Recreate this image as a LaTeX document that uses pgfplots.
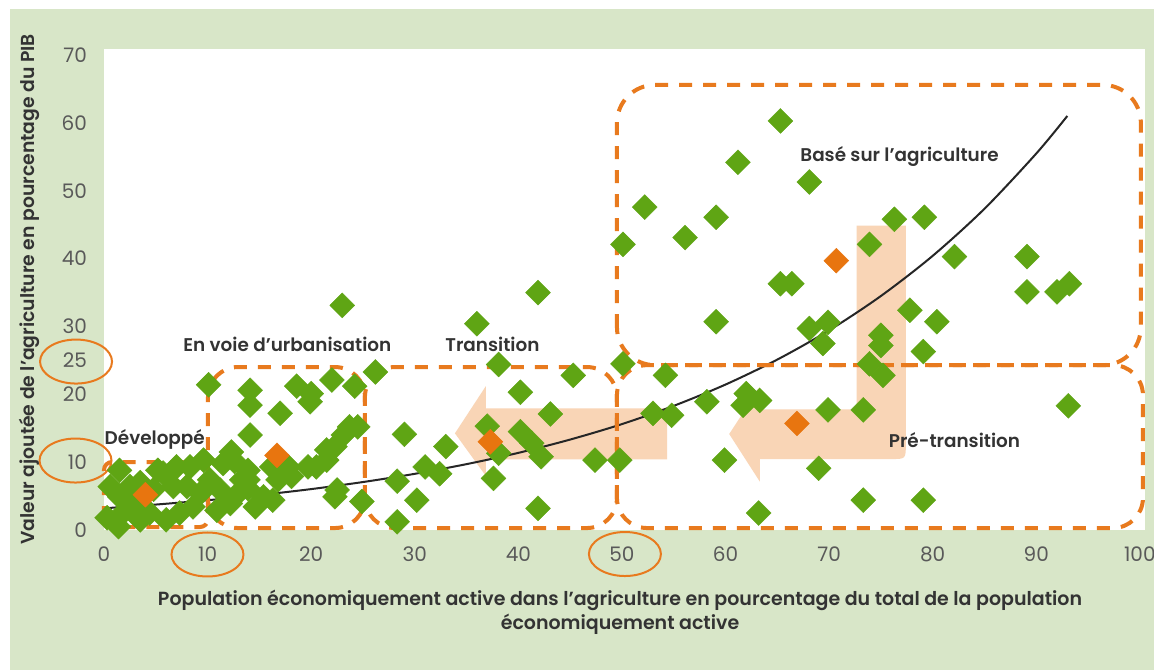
\documentclass[border=0pt]{standalone}
\usepackage{fontspec}
\setmainfont{Poppins}[BoldFont={Poppins SemiBold}]
\usepackage{pgfplots}
\pgfplotsset{compat=1.18}
\definecolor{bggreen}{HTML}{D8E6C8}
\definecolor{dgreen}{HTML}{5FA514}
\definecolor{dorange}{HTML}{E8750F}
\definecolor{boxorange}{HTML}{E87A1E}
\definecolor{peach}{HTML}{F9D5B6}
\definecolor{txtgray}{HTML}{595959}
\definecolor{lblgray}{HTML}{333333}

\pgfplotstableread{
x y
65.3 60.3
61.2 54.2
68.1 51.3
52.2 47.6
59.1 46.1
56.1 43.1
50.1 42.1
76.3 45.8
79.2 46.1
73.9 42.1
82.1 40.3
89.1 40.3
65.3 36.3
66.4 36.3
89.1 35.1
92.0 35.1
93.2 36.3
59.1 30.7
77.8 32.4
80.4 30.7
68.1 29.7
69.9 30.6
69.4 27.5
75.0 28.7
75.0 27.2
79.1 26.3
73.9 24.5
75.2 22.8
69.9 17.7
73.3 17.7
93.1 18.3
69.0 9.1
73.3 4.4
79.1 4.4
63.2 2.5
50.1 24.5
54.2 22.8
45.3 22.8
53.0 17.2
54.8 16.9
58.2 18.9
62.0 20.1
63.3 19.1
61.7 18.4
47.4 10.3
49.8 10.3
59.9 10.3
41.9 35.0
36.0 30.4
38.1 24.4
26.2 23.3
40.2 20.3
43.1 17.1
29.0 14.1
37.0 15.3
40.2 14.5
41.3 12.8
42.2 10.8
38.1 11.3
33.0 12.3
31.0 9.3
32.4 8.3
28.3 7.2
37.6 7.6
30.2 4.4
41.9 3.2
28.3 1.2
23.0 33.1
22.0 22.1
24.2 21.2
18.6 21.2
20.0 20.1
19.9 18.9
14.1 20.6
14.1 18.4
17.0 17.2
14.1 14.0
23.7 15.2
24.5 15.2
23.1 14.0
22.3 12.3
21.5 11.8
21.5 10.3
20.5 9.3
19.7 9.3
17.8 9.3
16.2 9.3
16.8 7.4
13.9 8.8
13.9 7.4
13.9 6.1
12.6 10.1
15.4 4.9
16.3 4.4
14.6 3.4
22.3 4.9
24.9 4.2
12.6 4.9
10.1 21.4
18.1 7.9
22.5 5.9
0.3 1.8
1.4 0.5
1.5 8.8
0.6 6.4
2.5 6.4
1.5 4.9
2.8 3.4
4.4 2.5
6.0 1.5
5.7 8.4
7.0 9.3
8.3 9.3
6.7 6.4
8.0 6.4
9.3 5.4
9.6 10.3
11.5 9.8
12.3 11.5
10.2 7.4
11.2 5.9
12.2 3.9
10.9 2.9
8.6 3.4
7.3 2.5
3.5 1.5
1.5 2.0
13.3 7.4
5.2 8.8
3.5 7.0
4.8 6.0
}\greenpts

\pgfplotstableread{
x y
4.0 5.2
16.7 11.0
37.3 13.0
66.9 15.7
70.7 39.7
}\orangepts

\pgfplotstableread{
x y
0.3 3.23
5 3.75
10 4.39
15 5.15
20 6.03
25 7.07
30 8.28
35 9.71
40 11.37
45 13.33
50 15.61
55 18.30
60 21.44
65 25.12
70 29.43
75 34.49
80 40.41
85 47.35
90 55.49
93 61.03
}\trend

\begin{document}
\begin{tikzpicture}
\useasboundingbox (0pt,0pt) rectangle (577pt,335pt);
\fill[white] (0pt,0pt) rectangle (577pt,335pt);
\fill[bggreen] (5pt,0pt) rectangle (577pt,330.5pt);
\begin{axis}[
  at={(52pt,70pt)}, anchor=south west,
  scale only axis, width=520.5pt, height=240.5pt,
  xmin=0, xmax=100.5, ymin=0, ymax=70.9,
  axis background/.style={fill=white},
  axis line style={draw=none},
  major tick length=0pt,
  xtick={0,10,...,100},
  ytick={0,10,20,25,30,40,50,60,70},
  tick label style={font=\fontsize{10}{12}\selectfont, text=txtgray},
  /pgf/number format/assume math mode=true,
  xticklabel style={yshift=-5pt},
  yticklabel style={xshift=-5pt},
  clip=false,
  xlabel={Population économiquement active dans l’agriculture en pourcentage du total de la population\\économiquement active},
  xlabel style={font=\bfseries\fontsize{9.5}{12}\selectfont, text=lblgray, align=center, at={(axis description cs:0.4957,-0.1705)}, anchor=center},
  ylabel={Valeur ajoutée de l’agriculture en pourcentage du PIB},
  ylabel style={font=\bfseries\fontsize{9.4}{11}\selectfont, text=lblgray, at={(axis description cs:-0.0720,0.5)}, anchor=center},
]
% arrows
\fill[peach] (axis cs:54.37,17.93) -- (axis cs:36.87,17.93) -- (axis cs:36.87,21.22) -- (axis cs:33.88,14.25) -- (axis cs:36.87,7.96) -- (axis cs:36.87,10.42) -- (axis cs:54.37,10.42) -- cycle;
\fill[peach] (axis cs:63.32,17.79) -- (axis cs:72.65,17.79) -- (axis cs:72.65,44.86) -- (axis cs:77.41,44.86) -- (axis cs:77.41,12.67) .. controls (axis cs:77.41,10.46) .. (axis cs:75.97,10.46) -- (axis cs:63.32,10.46) -- (axis cs:63.32,7.12) -- (axis cs:60.36,14.15) -- (axis cs:63.32,21.07) -- cycle;
% points
\addplot[only marks, mark=square*, mark size=4.4pt, mark options={rotate=45, fill=dgreen, draw=dgreen, line width=0.2pt}] table[x=x,y=y] {\greenpts};
\addplot[only marks, mark=square*, mark size=4.4pt, mark options={rotate=45, fill=dorange, draw=dorange, line width=0.2pt}] table[x=x,y=y] {\orangepts};
% trend
\addplot[black!85, line width=1pt, smooth] table[x=x,y=y] {\trend};
% boxes
\begin{scope}[boxorange, line width=2pt, dash pattern=on 6.5pt off 5.5pt]
\draw[rounded corners=4pt] (axis cs:0,0.44) rectangle (axis cs:10.04,10.02);
\draw[rounded corners=15pt] (axis cs:10.04,0.29) rectangle (axis cs:25.19,24.02);
\draw[rounded corners=15pt] (axis cs:25.19,0.29) rectangle (axis cs:49.52,24.02);
\draw[rounded corners=15pt] (axis cs:49.52,0.29) rectangle (axis cs:100.3,24.3);
\draw[rounded corners=19pt] (axis cs:49.52,24.3) rectangle (axis cs:100.1,65.6);
\end{scope}
% ellipses
\begin{scope}[boxorange, line width=1pt]
\draw (axis cs:-2.7,24.83) ellipse [x radius=18pt, y radius=11pt];
\draw (axis cs:-2.75,10.24) ellipse [x radius=18pt, y radius=11pt];
\draw (axis cs:9.99,-3.61) ellipse [x radius=18pt, y radius=11pt];
\draw (axis cs:50.29,-3.54) ellipse [x radius=18pt, y radius=11pt];
\end{scope}
% region labels
\begin{scope}[every node/.style={font=\bfseries\fontsize{9.2}{11}\selectfont, text=lblgray, inner sep=0pt}]
\node at (axis cs:4.9,13.3) {Développé};
\node at (axis cs:17.7,27.4) {En voie d’urbanisation};
\node at (axis cs:37.5,27.4) {Transition};
\node at (axis cs:76.8,55.1) {Basé sur l’agriculture};
\node at (axis cs:82.1,13.3) {Pré-transition};
\end{scope}
\end{axis}
\end{tikzpicture}
\end{document}
